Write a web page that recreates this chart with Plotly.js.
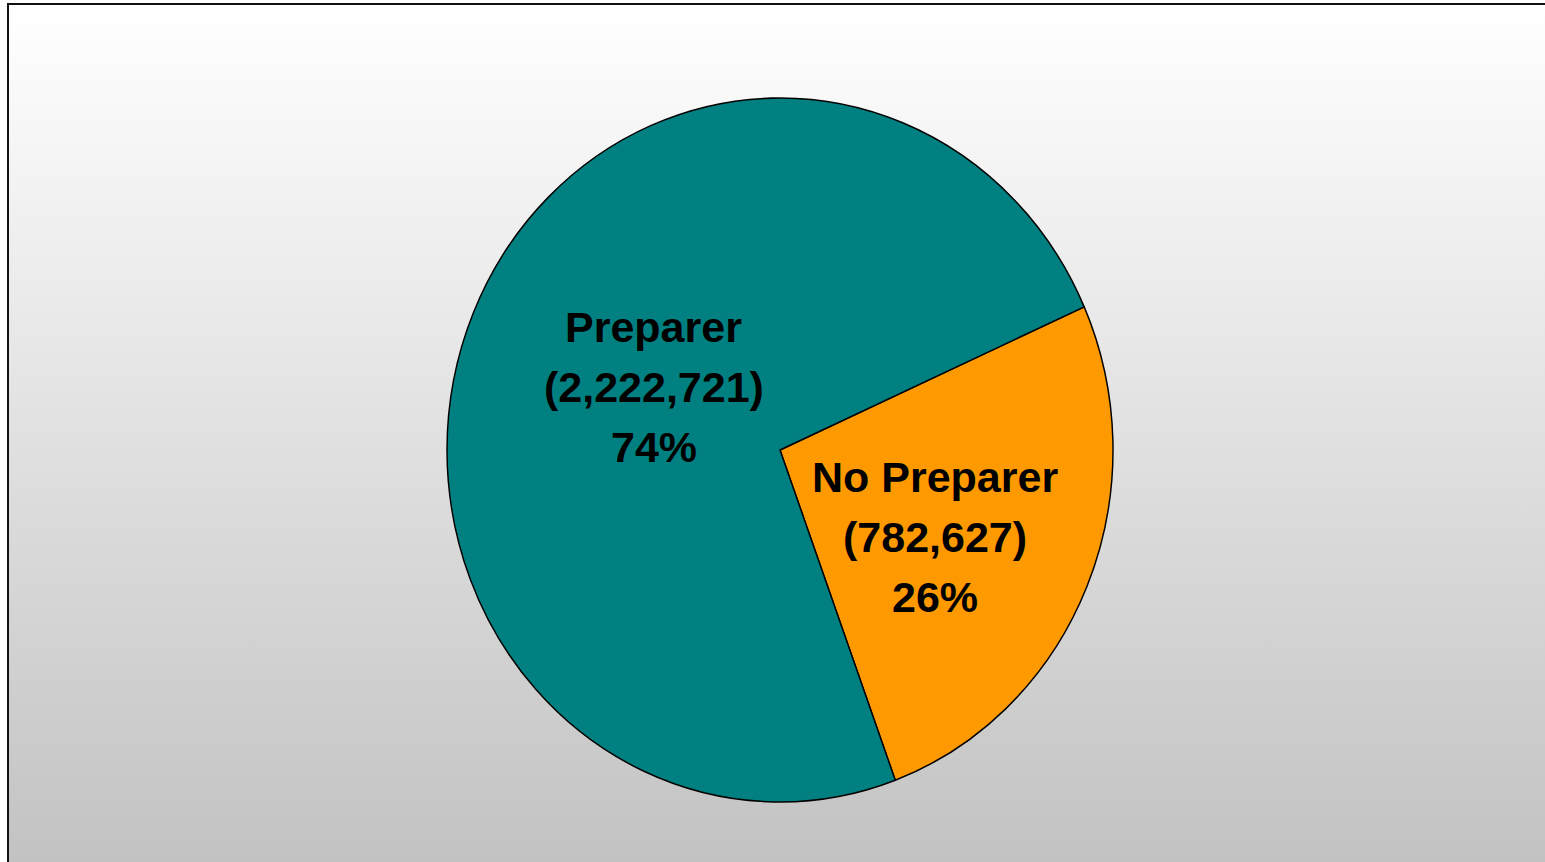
<!DOCTYPE html>
<html>
<head>
<meta charset="utf-8">
<script src="https://cdn.plot.ly/plotly-3.0.1.min.js"></script>
<style>
  html, body { margin: 0; padding: 0; width: 1545px; height: 862px; overflow: hidden; background: #ffffff; }
  #bg {
    position: absolute; left: 7px; top: 3px; width: 1600px; height: 900px;
    border-left: 2px solid #111; border-top: 2px solid #111;
    background: linear-gradient(to bottom, #ffffff 0px, #fbfbfb 60px, #c2c2c2 862px);
  }
  #chart { position: absolute; left: 0; top: 0; width: 1545px; height: 862px; }
  #chart .pielayer { transform-origin: 780px 450px; transform: scale(0.9737, 1.0292); }
</style>
</head>
<body>
<div id="bg"></div>
<div id="chart"></div>
<script>
const categories = ["No Preparer", "Preparer"];
const values = [782627, 2222721];
const colors = ["#FF9900", "#008080"];

const total = values.reduce((a, b) => a + b, 0);
const fmt = v => v.toLocaleString("en-US");
const pct = v => Math.round(100 * v / total) + "%";

const W = 1545, H = 862, cx = 780, cy = 450, r = 342;
const labelPos = [[934.5, 537], [653.5, 387]];
const lineGap = 60;

const annotations = [];
categories.forEach((c, i) => {
  const lines = [c, "(" + fmt(values[i]) + ")", pct(values[i])];
  lines.forEach((t, k) => {
    annotations.push({
      x: labelPos[i][0] / W, y: 1 - (labelPos[i][1] + (k - 1) * lineGap) / H,
      xref: "paper", yref: "paper",
      text: t, showarrow: false, xanchor: "center", yanchor: "middle", align: "center",
      font: { family: "Liberation Sans, Arial, sans-serif", size: 43, color: "#000000", weight: "bold" }
    });
  });
});

const trace = {
  type: "pie",
  labels: categories,
  values: values,
  sort: false,
  direction: "clockwise",
  rotation: 66,
  textinfo: "none",
  hoverinfo: "label+value+percent",
  marker: { colors: colors, line: { color: "#000000", width: 1.5 } },
  domain: { x: [(cx - r) / W, (cx + r) / W], y: [1 - (cy + r) / H, 1 - (cy - r) / H] }
};

const layout = {
  width: W, height: H,
  margin: { l: 0, r: 0, t: 0, b: 0 },
  paper_bgcolor: "rgba(0,0,0,0)",
  plot_bgcolor: "rgba(0,0,0,0)",
  showlegend: false,
  annotations: annotations
};

Plotly.newPlot("chart", [trace], layout, { displayModeBar: false, staticPlot: true });
</script>
</body>
</html>
